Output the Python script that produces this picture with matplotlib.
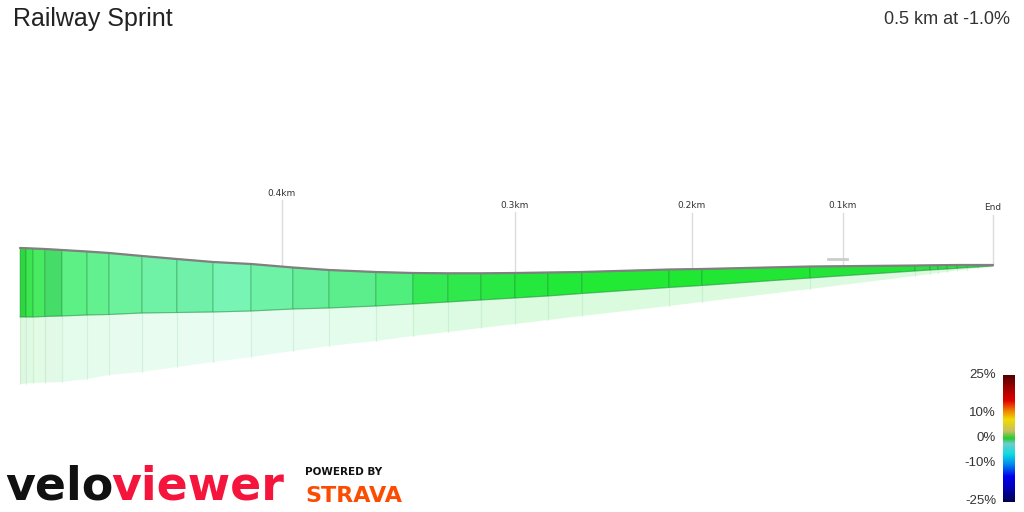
import numpy as np
import matplotlib
matplotlib.use('Agg')
import matplotlib.pyplot as plt
from matplotlib.colors import LinearSegmentedColormap
from matplotlib.patches import Polygon

TITLE = 'Railway Sprint'
SUMMARY = '0.5 km at -1.0%'

# distance markers (km ridden) and where they land on the perspective axis
mark_km = [0.0, 0.1, 0.2, 0.3, 0.4, 0.5]
mark_x = [20, 282, 515, 692, 843, 993]
mark_labels = ['', '0.4km', '0.3km', '0.2km', '0.1km', 'End']
mark_label_y = [0, 193, 205, 206, 206, 208]

# segment boundaries along the segment (km)
seg_km = [0.0, 0.0023, 0.0050, 0.0095, 0.0160, 0.0256, 0.0340, 0.0466, 0.0599,
          0.0737, 0.0882, 0.1047, 0.1202, 0.1403, 0.1562, 0.1712, 0.1854, 0.2000,
          0.2186, 0.2379, 0.2870, 0.3066, 0.3781, 0.4480, 0.4580, 0.4633, 0.4693,
          0.4760, 0.4827, 0.4900, 0.4960, 0.5000]
# projected profile: top of wall, base of wall, far edge of the shadow
top_y = [248, 248.2, 248.5, 249, 250, 251.5, 253, 256, 259, 262, 264, 267.5, 270,
         272, 273, 273.3, 273.3, 273, 272.5, 272, 269.5, 269, 266.5, 265.5, 265.3,
         265.2, 265.1, 265, 265, 265, 265, 265]
base_y = [317, 317, 317, 316.5, 316, 315, 314.5, 313, 312.5, 312, 311, 309, 308,
          306, 304, 302, 300, 298, 296, 293.5, 287.5, 285.5, 278, 271, 270, 269.5,
          269, 268.3, 267.6, 267, 266.4, 266]
shadow_y = [384, 383.5, 383, 382.5, 382, 379, 375, 372, 367, 362, 357, 351, 346,
            341, 336, 332, 328, 324, 320, 316, 306, 302, 289, 276, 274, 273, 272,
            270.5, 269.5, 268, 267, 266]
seg_colors = ['#30d642', '#3be64f', '#48ea60', '#45dc68', '#5df084', '#63f08e',
              '#6cf29c', '#70f2a6', '#70f0a8', '#78f4b4', '#6ef2a6', '#66ef9a',
              '#5cee8c', '#50ee7c', '#34ea54', '#2fe84c', '#2ae844', '#24e83c',
              '#22e838', '#22ea34', '#20e832', '#22e634', '#24e43a', '#2ee042',
              '#2ee042', '#2ee042', '#2ee042', '#2ee042', '#2ee042', '#2ee042',
              '#2ee042']

# gradient legend
cbar_ticks = [25, 10, 0, -10, -25]
cbar_stops = [(0.0, '#000050'), (0.1, '#0000b0'), (0.2, '#0000ee'), (0.3, '#0090ee'),
              (0.38, '#10dde0'), (0.46, '#70cccc'), (0.5, '#22cc33'), (0.56, '#c8c060'),
              (0.65, '#f0dd00'), (0.72, '#f08000'), (0.8, '#e00000'), (0.9, '#a00000'),
              (1.0, '#500000')]


def main():
    fig = plt.figure(figsize=(10.24, 5.12), dpi=100)
    ax = fig.add_axes([0, 0, 1, 1])
    ax.set_xlim(0, 1024)
    ax.set_ylim(512, 0)
    ax.axis('off')

    xs = np.interp(seg_km, mark_km, mark_x)

    # shadow first, then the front wall
    for i, c in enumerate(seg_colors):
        x0, x1 = xs[i], xs[i + 1]
        ax.add_patch(Polygon([(x0, base_y[i]), (x1, base_y[i + 1]),
                              (x1, shadow_y[i + 1]), (x0, shadow_y[i])],
                             closed=True, facecolor=c, alpha=0.16,
                             edgecolor='none', zorder=1))
        ax.plot([x0, x0], [base_y[i], shadow_y[i]], color='#9ad0a8',
                alpha=0.25, lw=0.8, zorder=1.5)
    for i, c in enumerate(seg_colors):
        x0, x1 = xs[i], xs[i + 1]
        ax.add_patch(Polygon([(x0, top_y[i]), (x1, top_y[i + 1]),
                              (x1, base_y[i + 1]), (x0, base_y[i])],
                             closed=True, facecolor=c, edgecolor=(0.1, 0.5, 0.2, 0.35),
                             lw=0.8, zorder=2))
    ax.plot(xs, base_y, color=(0.1, 0.6, 0.25, 0.35), lw=0.8, zorder=2.5)
    ax.plot(xs, top_y, color='#808080', lw=1.6, zorder=3, solid_capstyle='round')

    # distance markers
    for km, mx, lab, ly in zip(mark_km, mark_x, mark_labels, mark_label_y):
        if not lab:
            continue
        ty = np.interp(km, seg_km, top_y)
        ax.plot([mx, mx], [ly + 7, ty], color='#dcdcdc', lw=1, zorder=0.5)
        ax.text(mx, ly, lab, ha='center', va='center', fontsize=6.5, color='#333333')
    ax.plot([828, 847], [259, 259], color='#cccccc', lw=2, zorder=0.6)

    # titles
    ax.text(13, 19, TITLE, ha='left', va='center', fontsize=18, color='#222222',
            family='Liberation Sans')
    ax.text(1010, 19, SUMMARY, ha='right', va='center', fontsize=13, color='#333333',
            family='Liberation Sans')

    # gradient colour bar
    cmap = LinearSegmentedColormap.from_list('grad', cbar_stops)
    vals = np.linspace(-25, 25, 256).reshape(-1, 1)
    ax.imshow(vals, cmap=cmap, vmin=-25, vmax=25, aspect='auto', origin='lower',
              extent=[1003, 1015, 502, 375], zorder=2)
    ax.set_xlim(0, 1024)
    ax.set_ylim(512, 0)
    for t in cbar_ticks:
        ty = 438 - t * 2.54
        ax.text(996, ty, f'{t}%', ha='right', va='center', fontsize=9.5,
                color='#333333', family='Liberation Sans')

    # logos
    velo = ax.text(5, 500, 'velo', ha='left', va='baseline', fontsize=33,
                   fontweight='bold', color='#111111')
    fig.canvas.draw()
    bb = velo.get_window_extent().transformed(ax.transData.inverted())
    ax.text(bb.x1 - 2, 500, 'viewer', ha='left', va='baseline', fontsize=33,
            fontweight='bold', color='#f5143c')
    ax.text(305, 472, 'POWERED BY', ha='left', va='center', fontsize=7.5,
            fontweight='bold', color='#111111')
    ax.text(305, 502, 'STRAVA', ha='left', va='baseline', fontsize=16,
            fontweight='bold', color='#fc4c02')

    fig.savefig('out.png', dpi=100)


if __name__ == '__main__':
    main()
